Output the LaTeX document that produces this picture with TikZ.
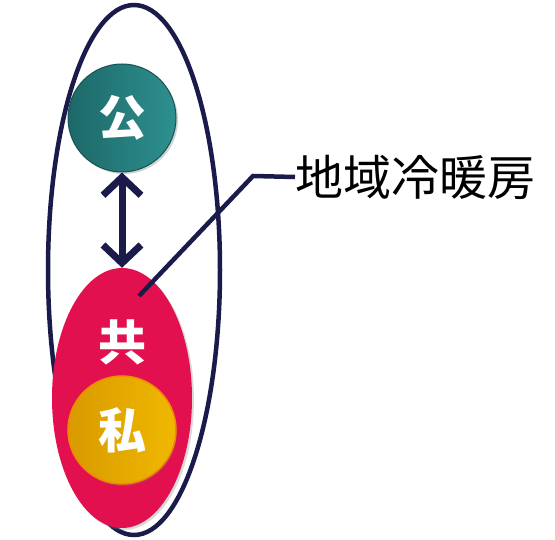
\documentclass[tikz,border=0pt]{standalone}
\usepackage{fontspec}
\newfontfamily\cjk{Noto Sans CJK JP}
\usetikzlibrary{arrows.meta,shadows,shapes.geometric}
\definecolor{navy}{HTML}{1B1B4B}
\definecolor{tealA}{HTML}{1D6868}
\definecolor{tealB}{HTML}{2E9090}
\definecolor{crim}{HTML}{E2104E}
\definecolor{goldA}{HTML}{D89A00}
\definecolor{goldB}{HTML}{F0B800}
\definecolor{goldE}{HTML}{F08A00}
\begin{document}
\begin{tikzpicture}[x=1pt,y=-1pt,
  lbl/.style={font=\cjk\bfseries\fontsize{48}{48}\selectfont,text=white},
  navyline/.style={draw=navy,line width=4.5pt}]
\useasboundingbox (0,0) rectangle (555,540);
% outer ellipse
\node[navyline,ellipse,minimum width=172pt,minimum height=530pt,inner sep=0pt] (outer) at (134,270) {};
% red ellipse
\node[ellipse,minimum width=140pt,minimum height=260pt,inner sep=0pt,fill=crim,drop shadow={shadow xshift=2pt,shadow yshift=-2pt,opacity=0.3}] (red) at (122,398) {};
% gold circle
\node[circle,minimum size=108pt,inner sep=0pt,left color=goldA,right color=goldB,draw=goldE,line width=1.5pt,drop shadow={shadow xshift=1pt,shadow yshift=-2pt,opacity=0.3}] (gold) at (122,430) {};
% teal circle
\node[circle,minimum size=108pt,inner sep=0pt,left color=tealA,right color=tealB,draw=tealA!80!black,line width=1pt,drop shadow={shadow xshift=2pt,shadow yshift=-2pt,opacity=0.35}] (teal) at (122,118) {};
% labels
\node[lbl] (ko) at (teal.center) {公};
\node[lbl] (kyo) at (122,342) {共};
\node[lbl] (shi) at (gold.center) {私};
% double arrow
\draw[navy,line width=7pt,{Straight Barb[length=18pt,width=38pt]}-{Straight Barb[length=18pt,width=38pt]}] (teal.south) -- (red.north);
% leader
\coordinate (p) at (139,296);
\coordinate (bend) at (253,176);
\node[anchor=west,inner sep=0pt,font=\cjk\fontsize{48}{48}\selectfont] (dhc) at (295,177) {地域冷暖房};
\draw[navyline] (p) -- (bend) -- (dhc.west);
\end{tikzpicture}
\end{document}
